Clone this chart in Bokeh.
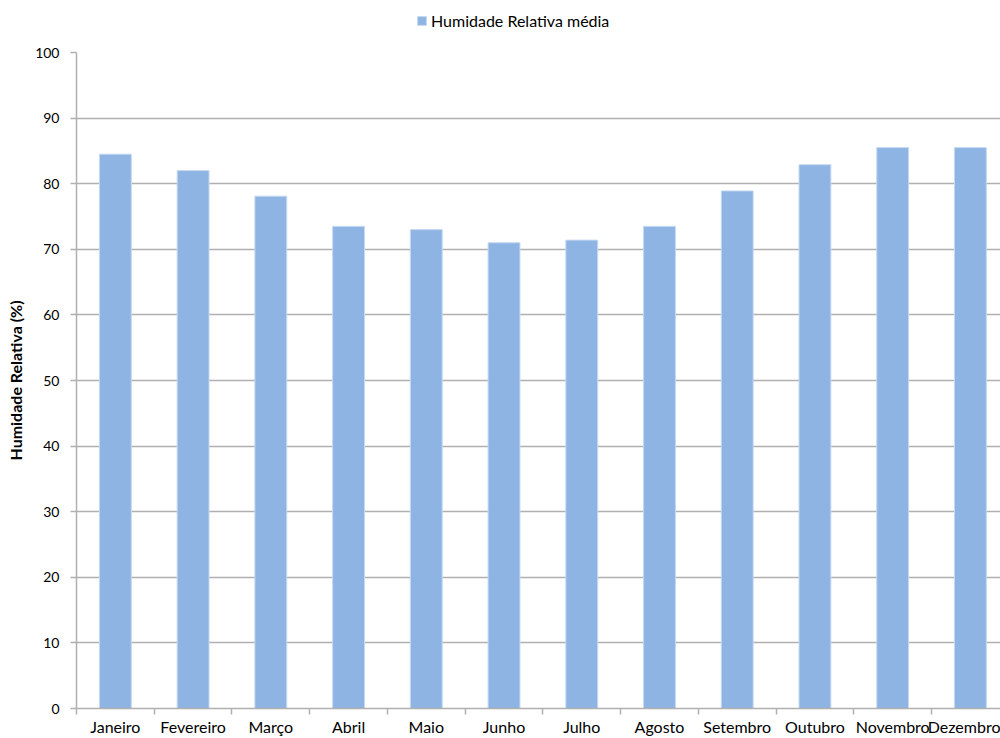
from bokeh.plotting import figure
from bokeh.layouts import column
from bokeh.models import Range1d, FixedTicker, Legend, LegendItem, ColumnDataSource
from bokeh.embed import file_html
from bokeh.resources import INLINE

# Mean monthly relative humidity (%)
months = ["Janeiro", "Fevereiro", "Março", "Abril", "Maio", "Junho",
          "Julho", "Agosto", "Setembro", "Outubro", "Novembro", "Dezembro"]
humidity = [84.5, 82.0, 78.1, 73.5, 73.0, 71.0, 71.4, 73.5, 78.9, 82.9, 85.5, 85.5]
y_ticks = [0, 10, 20, 30, 40, 50, 60, 70, 80, 90, 100]
series_name = "Humidade Relativa média"

FONT = "Lato"
LINE_GREY = "#B0B0B0"
BAR_BLUE = "#8EB4E3"
BAR_EDGE = "#C6D9F1"

centers = [i + 0.5 for i in range(len(months))]
bounds = list(range(len(months) + 1))

src = ColumnDataSource(data=dict(x=centers, top=humidity, month=months))

# --- legend strip above the chart (its frame is aligned with the chart frame) ---
leg_fig = figure(width=1000, height=44, output_backend="svg", toolbar_location=None,
                 x_range=Range1d(0, 1000), y_range=Range1d(0, 44),
                 x_axis_location=None, y_axis_location=None,
                 min_border=0, outline_line_color=None)
leg_fig.xgrid.visible = False
leg_fig.ygrid.visible = False
# swatch proxy for the legend entry, kept outside the visible range
swatch = leg_fig.vbar(x=[-50], top=[0], width=1, fill_color=BAR_BLUE, line_color=BAR_EDGE)
legend = Legend(items=[LegendItem(label=series_name, renderers=[swatch])],
                location=(340, 14), orientation="horizontal",
                padding=0, margin=0, spacing=0,
                glyph_width=11, glyph_height=11, label_standoff=4,
                label_text_font=FONT, label_text_font_size="16px",
                label_text_color="black",
                border_line_color=None, background_fill_alpha=0)
leg_fig.add_layout(legend, "center")

# --- main bar chart ---
p = figure(width=1000, height=694, output_backend="svg", toolbar_location=None,
           x_range=Range1d(0, 11.887), y_range=Range1d(0, 100),
           min_border_left=76, min_border_right=0, min_border_top=8,
           min_border_bottom=30, outline_line_color=None,
           background_fill_color="white", border_fill_color="white")

p.vbar(x="x", top="top", width=0.41, source=src,
       fill_color=BAR_BLUE, line_color=BAR_EDGE, line_width=1)

# x axis: category names centred, tick marks between categories
xa = p.xaxis[0]
xa.ticker = FixedTicker(ticks=centers, minor_ticks=bounds)
xa.major_label_overrides = {c: m for c, m in zip(centers, months)}
xa.major_tick_line_color = None
xa.major_tick_out = 6
xa.major_tick_in = 0
xa.minor_tick_out = 6
xa.minor_tick_in = 0
xa.minor_tick_line_color = LINE_GREY
xa.minor_tick_line_width = 1.5
xa.axis_line_color = LINE_GREY
xa.axis_line_width = 1.5
xa.major_label_standoff = 2
xa.major_label_text_font = FONT
xa.major_label_text_font_size = "16px"
xa.major_label_text_color = "black"

ya = p.yaxis[0]
ya.ticker = FixedTicker(ticks=y_ticks)
ya.axis_line_color = LINE_GREY
ya.axis_line_width = 1.5
ya.major_tick_line_color = LINE_GREY
ya.major_tick_line_width = 1.5
ya.major_tick_out = 6
ya.major_tick_in = 0
ya.minor_tick_line_color = None
ya.major_label_standoff = 11
ya.major_label_text_font = FONT
ya.major_label_text_font_size = "14px"
ya.major_label_text_color = "black"
ya.axis_label = "Humidade Relativa (%)"
ya.axis_label_text_font = FONT
ya.axis_label_text_font_style = "bold"
ya.axis_label_text_font_size = "16px"
ya.axis_label_text_color = "black"
ya.axis_label_standoff = 7

p.xgrid.grid_line_color = None
p.ygrid.ticker = FixedTicker(ticks=y_ticks)
p.ygrid.grid_line_color = LINE_GREY
p.ygrid.grid_line_width = 1.5

layout = column(leg_fig, p, spacing=0)
open("out.html", "w").write(file_html(layout, INLINE))
